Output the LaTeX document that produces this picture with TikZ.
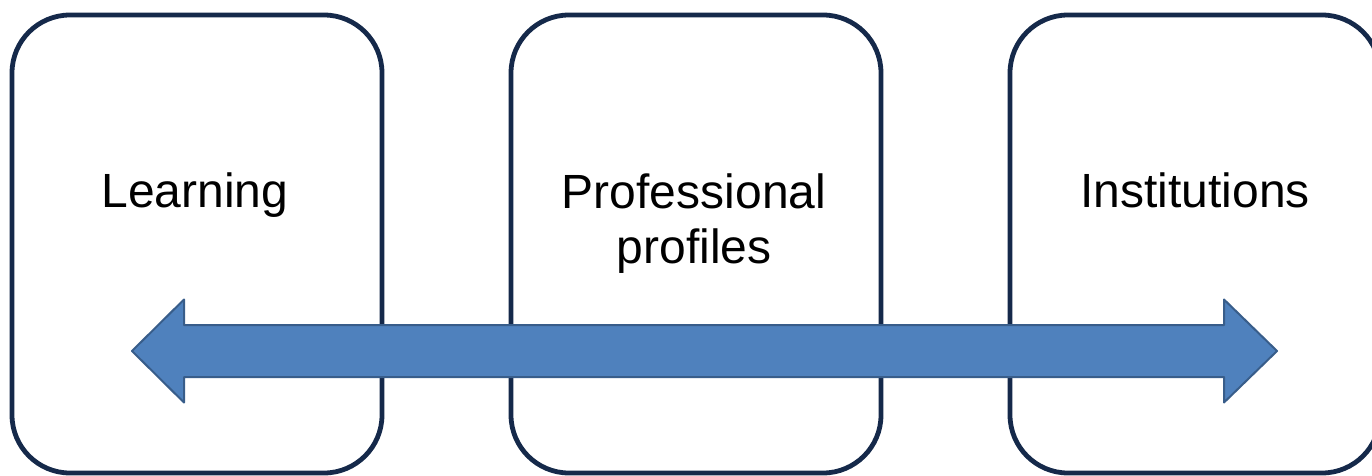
\documentclass[tikz,border=0pt]{standalone}
\usepackage{fontspec}
\setmainfont{Liberation Sans}
\definecolor{boxline}{HTML}{15294A}
\definecolor{arrowfill}{HTML}{4F81BD}
\definecolor{arrowline}{HTML}{385D8A}
\begin{document}
\begin{tikzpicture}[x=1pt,y=-1pt,
  panel/.style={draw=boxline,line width=4.8pt,rounded corners=58pt,fill=white,
    minimum width=370pt,minimum height=458pt,inner sep=0pt,outer sep=0pt},
  label/.style={anchor=base,font=\fontsize{48}{55}\selectfont,align=center,inner sep=0pt},
  bigarrow/.style={fill=arrowfill,draw=arrowline,line width=2pt,line join=round}]
\useasboundingbox (0,0) rectangle (1372,476);
\node[panel] (b1) at (197,244) {};
\node[panel] (b2) at (696,244) {};
\node[panel] (b3) at (1195,244) {};
\node[label] (t1) at (195,207) {Learning};
\node[label,anchor=north] (t2) at (694,174) {Professional\\profiles};
\node[label] (t3) at (1195,207) {Institutions};
\coordinate (lt) at (132,351);
\coordinate (rt) at (1277,351);
\draw[bigarrow] (lt) -- (184,299.5) -- (184,325) -- (1224,325) -- (1224,299.5)
  -- (rt) -- (1224,402.5) -- (1224,377) -- (184,377) -- (184,402.5) -- cycle;
\end{tikzpicture}
\end{document}
